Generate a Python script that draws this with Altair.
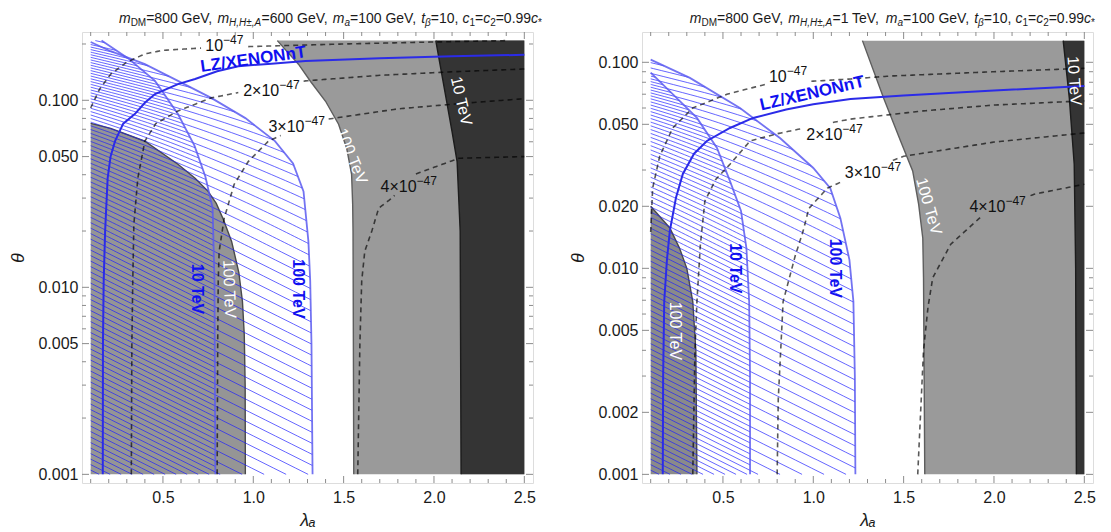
import numpy as np
import pandas as pd
import altair as alt

# ---------------- common layout / scale settings ----------------
W, HGT = 451, 451
XDOM = [0.052, 2.548]
LAM_LO, LAM_HI = 0.1, 2.5
TH_LO = 0.001

X_MAJOR = [0.5, 1.0, 1.5, 2.0, 2.5]
X_MINOR = [0.1, 0.2, 0.3, 0.4, 0.6, 0.7, 0.8, 0.9, 1.1, 1.2, 1.3, 1.4,
           1.6, 1.7, 1.8, 1.9, 2.1, 2.2, 2.3, 2.4]

# ---------------- LEFT panel data (m_H = 600 GeV) ----------------
L_YDOM = [0.000899, 0.2318]
L_TOP = 0.2085
L_Y_MAJOR = [0.001, 0.005, 0.01, 0.05, 0.1]
L_Y_MINOR = [0.002, 0.003, 0.004, 0.006, 0.007, 0.008, 0.009,
             0.02, 0.03, 0.04, 0.06, 0.07, 0.08, 0.09, 0.2]

L_dark_th = [0.2085, 0.068, 0.047, 0.02, 0.001]
L_dark_lam = [2.01, 2.10, 2.128, 2.145, 2.15]
L_mid_th = [0.2085, 0.156, 0.126, 0.0988, 0.0745, 0.0553, 0.0402, 0.0278, 0.0199, 0.001]
L_mid_lam = [1.133, 1.25, 1.317, 1.40, 1.472, 1.517, 1.544, 1.55, 1.552, 1.556]
L_low_th = [0.0753, 0.0708, 0.0604, 0.0455, 0.0383, 0.0326, 0.0281, 0.023, 0.0176,
            0.012, 0.0084, 0.0056, 0.003, 0.001]
L_low_lam = [0.1, 0.211, 0.40, 0.583, 0.678, 0.75, 0.795, 0.835, 0.88,
             0.92, 0.94, 0.95, 0.955, 0.956]

L_lz_lam = [0.167, 0.168, 0.172, 0.18, 0.194, 0.21, 0.235, 0.28, 0.344, 0.40, 0.456,
            0.583, 0.678, 0.8, 0.917, 1.1, 1.289, 1.7, 2.1, 2.5]
L_lz_th = [0.001, 0.005, 0.0108, 0.02, 0.0384, 0.05, 0.0605, 0.075, 0.0844, 0.097, 0.108,
           0.122, 0.130, 0.143, 0.152, 0.157, 0.162, 0.168, 0.172, 0.175]
L_b10_lam = [0.16, 0.306, 0.456, 0.583, 0.675, 0.735, 0.775, 0.785, 0.79]
L_b10_th = [0.2085, 0.168, 0.127, 0.0845, 0.057, 0.039, 0.0265, 0.0108, 0.001]
L_b100_lam = [0.1, 0.211, 0.4, 0.583, 0.767, 0.956, 1.12, 1.22, 1.278, 1.305, 1.315, 1.322, 1.328]
L_b100_th = [0.205, 0.183, 0.156, 0.127, 0.103, 0.0803, 0.0605, 0.046, 0.0326, 0.0176,
             0.0108, 0.005, 0.001]

L_d1_lam = [0.1, 0.15, 0.211, 0.3, 0.4, 0.5, 0.7, 0.917, 1.5, 2.0, 2.4]
L_d1_th = [0.091, 0.115, 0.138, 0.16, 0.177, 0.185, 0.19, 0.193, 0.2, 0.205, 0.2085]
L_d2_lam = [0.325, 0.328, 0.333, 0.339, 0.361, 0.40, 0.46, 0.583, 0.767, 0.917, 1.1,
            1.289, 1.7, 2.1, 2.5]
L_d2_th = [0.001, 0.005, 0.0108, 0.0217, 0.0384, 0.0605, 0.075, 0.0877, 0.103, 0.110,
           0.119, 0.127, 0.136, 0.142, 0.147]
L_d3_lam = [0.80, 0.803, 0.806, 0.811, 0.839, 0.894, 0.972, 1.083, 1.24, 1.417, 1.8, 2.2, 2.5]
L_d3_th = [0.001, 0.005, 0.0108, 0.0156, 0.0234, 0.0355, 0.047, 0.0604, 0.071, 0.0794,
           0.09, 0.097, 0.102]
L_d4_lam = [1.578, 1.59, 1.6, 1.617, 1.656, 1.694, 1.767, 1.9, 2.139, 2.5]
L_d4_th = [0.001, 0.005, 0.0108, 0.0156, 0.020, 0.0265, 0.030, 0.0404, 0.049, 0.05]

L_dlab_base = ["10", "2×10", "3×10", "4×10"]
L_dlab_sup = ["−47", "−47", "−47", "−47"]
L_dlab_lam = [0.84, 1.1, 1.24, 1.86]
L_dlab_th = [0.196, 0.112, 0.072, 0.0345]

L_blue_text = ["10 TeV", "100 TeV"]
L_blue_lam = [0.689, 1.25]
L_blue_th = [0.0098, 0.0098]
L_white_text = ["100 TeV", "100 TeV", "10 TeV"]
L_white_lam = [0.867, 1.544, 2.15]
L_white_th = [0.0098, 0.0503, 0.099]
L_white_ang = [88, 68, 77]
L_lz_label = (1.0, 0.165, -8)

# ---------------- RIGHT panel data (m_H = 1 TeV) ----------------
R_YDOM = [0.000908, 0.1403]
R_TOP = 0.1274
R_Y_MAJOR = [0.001, 0.002, 0.005, 0.01, 0.02, 0.05, 0.1]
R_Y_MINOR = [0.003, 0.004, 0.006, 0.007, 0.008, 0.009,
             0.03, 0.04, 0.06, 0.07, 0.08, 0.09]

R_dark_th = [0.1274, 0.0669, 0.032, 0.01, 0.001]
R_dark_lam = [2.383, 2.417, 2.444, 2.452, 2.456]
R_mid_th = [0.1274, 0.0671, 0.0415, 0.0297, 0.0205, 0.014, 0.009, 0.001]
R_mid_lam = [1.272, 1.389, 1.483, 1.55, 1.583, 1.606, 1.61, 1.617]
R_low_th = [0.02, 0.0157, 0.0125, 0.01, 0.0069, 0.004, 0.001]
R_low_lam = [0.1, 0.206, 0.26, 0.3, 0.333, 0.35, 0.356]

R_lz_lam = [0.167, 0.169, 0.175, 0.19, 0.206, 0.24, 0.278, 0.34, 0.411, 0.539, 0.667,
            0.85, 1.0, 1.206, 1.5, 2.0, 2.5]
R_lz_th = [0.001, 0.003, 0.0069, 0.011, 0.0152, 0.022, 0.0287, 0.036, 0.0415, 0.048,
           0.0537, 0.059, 0.0625, 0.0664, 0.069, 0.073, 0.0767]
R_b10_lam = [0.1, 0.222, 0.356, 0.467, 0.539, 0.60, 0.63, 0.645, 0.65, 0.65]
R_b10_th = [0.089, 0.0701, 0.0537, 0.0384, 0.0265, 0.019, 0.0125, 0.0069, 0.003, 0.001]
R_b100_lam = [0.1, 0.317, 0.594, 0.817, 1.0, 1.094, 1.15, 1.2, 1.222, 1.23, 1.233]
R_b100_th = [0.103, 0.084, 0.06, 0.0428, 0.0307, 0.0245, 0.0175, 0.011, 0.0069, 0.003, 0.001]

R_d1_lam = [0.1, 0.111, 0.15, 0.222, 0.333, 0.522, 0.744, 1.0, 1.206, 1.428, 2.0, 2.5]
R_d1_th = [0.015, 0.0245, 0.035, 0.048, 0.060, 0.070, 0.0785, 0.081, 0.083, 0.0858, 0.09, 0.0935]
R_d2_lam = [0.333, 0.345, 0.356, 0.375, 0.4, 0.46, 0.539, 0.65, 0.8, 1.0, 1.206, 1.6, 2.0, 2.5]
R_d2_th = [0.001, 0.004, 0.0069, 0.013, 0.0212, 0.027, 0.032, 0.0415, 0.045, 0.049, 0.053,
           0.058, 0.062, 0.065]
R_d3_lam = [0.8, 0.806, 0.833, 0.9, 0.944, 0.975, 1.078, 1.3, 1.5, 2.0, 2.5]
R_d3_th = [0.001, 0.0023, 0.0069, 0.0115, 0.0152, 0.0195, 0.0245, 0.030, 0.035, 0.041, 0.0454]
R_d4_lam = [1.578, 1.61, 1.635, 1.661, 1.761, 1.944, 2.222, 2.5]
R_d4_th = [0.001, 0.004, 0.0065, 0.009, 0.0131, 0.0183, 0.0229, 0.0256]

R_dlab_base = ["10", "2×10", "3×10", "4×10"]
R_dlab_sup = ["−47", "−47", "−47", "−47"]
R_dlab_lam = [0.86, 1.117, 1.33, 2.02]
R_dlab_th = [0.085, 0.0446, 0.029, 0.0199]

R_blue_text = ["10 TeV", "100 TeV"]
R_blue_lam = [0.567, 1.122]
R_blue_th = [0.01, 0.01]
R_white_text = ["100 TeV", "100 TeV", "10 TeV"]
R_white_lam = [0.233, 1.639, 2.444]
R_white_th = [0.00497, 0.02, 0.0812]
R_white_ang = [90, 74, 86]
R_lz_label = (0.994, 0.0705, -13)

# ---------------- titles (segments: text, size, italic, subscript) ----------------
def title_segments(mh):
    return [("m", 14, True, False), ("DM", 10, False, True), ("=800 GeV, ", 14, False, False),
            ("m", 14, True, False), ("H,H±,A", 10, True, True), ("=" + mh + ", ", 14, False, False),
            ("m", 14, True, False), ("a", 10, True, True), ("=100 GeV, ", 14, False, False),
            ("t", 14, True, False), ("β", 10, True, True), ("=10, ", 14, False, False),
            ("c", 14, True, False), ("1", 10, False, True), ("=", 14, False, False),
            ("c", 14, True, False), ("2", 10, False, True), ("=0.99", 14, False, False),
            ("c", 14, True, False), ("*", 10, False, True)]

CW = {"0": 556, "1": 556, "2": 556, "3": 556, "4": 556, "5": 556, "6": 556, "7": 556,
      "8": 556, "9": 556, " ": 278, "=": 584, ",": 278, ".": 278, "G": 778, "e": 556,
      "V": 667, "m": 833, "D": 722, "M": 833, "H": 722, "±": 584, "A": 667, "a": 556,
      "t": 278, "β": 575, "c": 500, "*": 389, "T": 611, "×": 584, "−": 584}


def seg_w(t, fs):
    return sum(CW.get(ch, 556) for ch in t) / 1000.0 * fs


# ---------------- drawing helpers ----------------
SY = [0, 60, 120, 200, 600]        # hatch slope profile (pixel depth -> slope)
SS = [0.22, 0.26, 0.40, 0.5, 0.5]
HATCH_STEP = 22.0
DUMMY = pd.DataFrame({"k": [0]})
BASE_FS, SUP_FS = 16, 12


def make_panel(P):
    ydom = P["ydom"]
    ppx = W / (XDOM[1] - XDOM[0])
    ltop = np.log10(ydom[1])
    ppd = HGT / (ltop - np.log10(ydom[0]))

    xs = alt.Scale(domain=XDOM, nice=False, zero=False)
    ys = alt.Scale(type="log", domain=ydom, nice=False)
    xaxis = alt.Axis(values=X_MAJOR, format=".1f", ticks=False, domain=False, grid=False,
                     labelFontSize=16, labelPadding=6, labelColor="#1a1a1a",
                     labelFont="Liberation Sans", title="λₐ", titleFontSize=18,
                     titleFontStyle="italic", titleFontWeight="normal", titlePadding=6,
                     titleColor="#1a1a1a", titleFont="Liberation Sans", labelFlush=False)
    yaxis = alt.Axis(values=P["ymajor"], format=".3f", ticks=False, domain=False, grid=False,
                     labelFontSize=16, labelPadding=4, labelColor="#1a1a1a",
                     labelFont="Liberation Sans", title="θ", titleFontSize=18,
                     titleFontStyle="italic", titleFontWeight="normal", titlePadding=10,
                     titleColor="#1a1a1a", titleFont="Liberation Sans", labelFlush=False)

    def X(f="lam"):
        return alt.X(f + ":Q", scale=xs, axis=xaxis)

    def Y(f="th"):
        return alt.Y(f + ":Q", scale=ys, axis=yaxis)

    layers = []

    # --- gray regions (vertical ranged areas) ---
    def region_right(lams, ths, color, edge):
        df = pd.DataFrame({"lam": list(lams) + [LAM_HI], "th": list(ths) + [TH_LO]})
        df["top"] = P["top"]
        area = alt.Chart(df).mark_area(color=color, opacity=1, interpolate="linear").encode(
            x=X(), y=Y(), y2="top:Q")
        e = pd.DataFrame({"lam": lams, "th": ths, "i": range(len(lams))})
        line = alt.Chart(e).mark_line(color=edge, strokeWidth=1.4).encode(
            x=X(), y=Y(), order="i:Q")
        return [area, line]

    def region_left(lams, ths, color, edge):
        df = pd.DataFrame({"lam": lams, "th": ths})
        df["bot"] = TH_LO
        area = alt.Chart(df).mark_area(color=color, opacity=1, interpolate="linear").encode(
            x=X(), y=Y("bot"), y2="th:Q")
        e = pd.DataFrame({"lam": lams, "th": ths, "i": range(len(lams))})
        line = alt.Chart(e).mark_line(color=edge, strokeWidth=1.4).encode(
            x=X(), y=Y(), order="i:Q")
        return [area, line]

    layers += region_right(P["mid_lam"], P["mid_th"], "#9a9a9a", "#5e5e5e")
    layers += region_right(P["dark_lam"], P["dark_th"], "#343434", "#1c1c1c")
    layers += region_left(P["low_lam"], P["low_th"], P["lowcol"], "#4a4a4a")

    # --- hatching (blue) ---
    Yt = (ltop - np.log10(P["top"])) * ppd
    Yb = (ltop - np.log10(TH_LO)) * ppd
    Ys = np.unique(np.concatenate([np.arange(Yt, min(220.0, Yb), 2.0),
                                   np.arange(220.0, Yb, 8.0), [Yb]]))
    sl = np.interp(Ys, SY, SS)
    inv = 1.0 / sl
    G = np.concatenate([[0.0], np.cumsum(0.5 * (inv[1:] + inv[:-1]) * np.diff(Ys))])
    thg = 10 ** (ltop - Ys / ppd)

    def hatch(cl, ct, offset, Hs=HATCH_STEP):
        lt = np.log10(np.array(ct))[::-1]
        ll = np.array(cl)[::-1]
        lamB = np.interp(np.log10(thg), lt, ll)
        rows = []
        cs = np.arange(-(LAM_HI - LAM_LO) * ppx + offset, G[-1] + Hs, Hs)
        for k, c in enumerate(cs):
            lam = LAM_LO + (G - c) / ppx
            f = np.minimum(lam - LAM_LO, lamB - lam)
            idx = np.where(f >= 0)[0]
            if len(idx) == 0:
                continue
            i0, i1 = idx[0], idx[-1]
            sy = list(Ys[i0:i1 + 1])
            sx = list(lam[i0:i1 + 1])
            if i0 > 0:
                t = f[i0 - 1] / (f[i0 - 1] - f[i0])
                sy.insert(0, Ys[i0 - 1] + t * (Ys[i0] - Ys[i0 - 1]))
                sx.insert(0, lam[i0 - 1] + t * (lam[i0] - lam[i0 - 1]))
            if i1 < len(Ys) - 1:
                t = f[i1] / (f[i1] - f[i1 + 1])
                sy.append(Ys[i1] + t * (Ys[i1 + 1] - Ys[i1]))
                sx.append(lam[i1] + t * (lam[i1 + 1] - lam[i1]))
            if len(sy) < 2:
                continue
            for j, (yy, xx) in enumerate(zip(sy, sx)):
                rows.append((k, j, round(float(xx), 5), float("%.5g" % (10 ** (ltop - yy / ppd)))))
        return pd.DataFrame(rows, columns=["id", "i", "lam", "th"])

    for cl, ct, off in [(P["b100_lam"], P["b100_th"], 0.0),
                        (P["b10_lam"], P["b10_th"], HATCH_STEP / 2)]:
        hd = hatch(cl, ct, off)
        layers.append(alt.Chart(hd).mark_line(color="#1c1cff", strokeWidth=0.75, opacity=0.9).encode(
            x=X(), y=Y(), detail="id:N", order="i:Q"))

    # --- blue contours ---
    for cl, ct in [(P["b10_lam"], P["b10_th"]), (P["b100_lam"], P["b100_th"])]:
        df = pd.DataFrame({"lam": cl, "th": ct, "i": range(len(cl))})
        layers.append(alt.Chart(df).mark_line(color="#5a5af0", strokeWidth=1.8, opacity=0.85).encode(
            x=X(), y=Y(), order="i:Q"))

    # --- dashed sigma contours, broken at their labels ---
    boxes = []
    for b, s, la, th in zip(P["dlab_base"], P["dlab_sup"], P["dlab_lam"], P["dlab_th"]):
        cx = (la - XDOM[0]) * ppx
        cy = (ltop - np.log10(th)) * ppd
        hw = (seg_w(b, BASE_FS) + seg_w(s, SUP_FS)) / 2 + 3
        boxes.append((cx, cy - 2, hw, 10.0))
    drows = []
    sid = 0
    for cl, ct in P["dashed"]:
        Xp = (np.array(cl) - XDOM[0]) * ppx
        Yp = (ltop - np.log10(np.array(ct))) * ppd
        px, py = [], []
        for i in range(len(Xp) - 1):
            n = max(2, int(np.hypot(Xp[i + 1] - Xp[i], Yp[i + 1] - Yp[i]) / 2) + 1)
            tt = np.linspace(0, 1, n, endpoint=False)
            px += list(Xp[i] + tt * (Xp[i + 1] - Xp[i]))
            py += list(Yp[i] + tt * (Yp[i + 1] - Yp[i]))
        px.append(Xp[-1]); py.append(Yp[-1])
        cur = []
        for x_, y_ in zip(px, py):
            inside = any(abs(x_ - bx) < bw and abs(y_ - by) < bh for bx, by, bw, bh in boxes)
            if inside:
                if len(cur) > 1:
                    for j, (a, b) in enumerate(cur):
                        drows.append((sid, j, a, b))
                    sid += 1
                cur = []
            else:
                cur.append((round(XDOM[0] + x_ / ppx, 5), float("%.5g" % (10 ** (ltop - y_ / ppd)))))
        if len(cur) > 1:
            for j, (a, b) in enumerate(cur):
                drows.append((sid, j, a, b))
            sid += 1
    dd = pd.DataFrame(drows, columns=["id", "i", "lam", "th"])
    layers.append(alt.Chart(dd).mark_line(color="#000000", strokeWidth=1.6, opacity=0.65,
                                          strokeDash=[5, 4]).encode(
        x=X(), y=Y(), detail="id:N", order="i:Q"))

    # --- LZ/XENONnT line ---
    df = pd.DataFrame({"lam": P["lz_lam"], "th": P["lz_th"], "i": range(len(P["lz_lam"]))})
    layers.append(alt.Chart(df).mark_line(color="#2b2be8", strokeWidth=2.0).encode(
        x=X(), y=Y(), order="i:Q"))

    # --- labels ---
    for t, la, th, ang in zip(P["white_text"], P["white_lam"], P["white_th"], P["white_ang"]):
        d = pd.DataFrame({"lam": [la], "th": [th], "t": [t]})
        layers.append(alt.Chart(d).mark_text(color="white", fontSize=16, angle=ang,
                                             font="Liberation Sans").encode(
            x=X(), y=Y(), text="t:N"))
    d = pd.DataFrame({"lam": P["blue_lam"], "th": P["blue_th"], "t": P["blue_text"]})
    layers.append(alt.Chart(d).mark_text(color="#1010f0", fontSize=16, fontWeight="bold", angle=90,
                                         font="Liberation Sans").encode(
        x=X(), y=Y(), text="t:N"))
    for b, s, la, th in zip(P["dlab_base"], P["dlab_sup"], P["dlab_lam"], P["dlab_th"]):
        wb, ws = seg_w(b, BASE_FS), seg_w(s, SUP_FS)
        d = pd.DataFrame({"lam": [la], "th": [th], "t": [b], "s": [s]})
        layers.append(alt.Chart(d).mark_text(color="#111111", fontSize=BASE_FS, align="left",
                                             baseline="middle", dx=-(wb + ws) / 2,
                                             font="Liberation Sans").encode(
            x=X(), y=Y(), text="t:N"))
        layers.append(alt.Chart(d).mark_text(color="#111111", fontSize=SUP_FS, align="left",
                                             baseline="middle", dx=-(wb + ws) / 2 + wb, dy=-6,
                                             font="Liberation Sans").encode(
            x=X(), y=Y(), text="s:N"))
    la, th, ang = P["lz_label"]
    d = pd.DataFrame({"lam": [la], "th": [th], "t": ["LZ/XENONnT"]})
    layers.append(alt.Chart(d).mark_text(color="#1010f0", fontSize=17, fontWeight="bold",
                                         angle=360 + ang, font="Liberation Sans").encode(
        x=X(), y=Y(), text="t:N"))

    # --- frame ticks (inside, all four sides) ---
    tcol = "#8c8c8c"
    for vals, ln in [(X_MAJOR, 7), (X_MINOR, 4)]:
        d = pd.DataFrame({"lam": vals})
        layers.append(alt.Chart(d).mark_rule(color=tcol, strokeWidth=1).encode(
            x=X(), y=alt.value(HGT), y2=alt.value(HGT - ln)))
        layers.append(alt.Chart(d).mark_rule(color=tcol, strokeWidth=1).encode(
            x=X(), y=alt.value(0), y2=alt.value(ln)))
    for vals, ln in [(P["ymajor"], 7), (P["yminor"], 4)]:
        d = pd.DataFrame({"th": vals})
        layers.append(alt.Chart(d).mark_rule(color=tcol, strokeWidth=1).encode(
            y=Y(), x=alt.value(0), x2=alt.value(ln)))
        layers.append(alt.Chart(d).mark_rule(color=tcol, strokeWidth=1).encode(
            y=Y(), x=alt.value(W), x2=alt.value(W - ln)))

    # --- title (segments with sub-scripts) ---
    segs = P["title"]
    total = sum(seg_w(t, fs) for t, fs, it, sub in segs)
    xpos = W + P["title_dx"] - total
    for t, fs, it, sub in segs:
        layers.append(alt.Chart(DUMMY).mark_text(
            text=t, fontSize=fs, fontStyle="italic" if it else "normal", align="left",
            baseline="alphabetic", color="#1a1a1a", font="Liberation Sans").encode(
            x=alt.value(round(xpos, 2)), y=alt.value(-9 + (3 if sub else 0))))
        xpos += seg_w(t, fs)

    return alt.layer(*layers).properties(width=W, height=HGT)


LEFT = dict(ydom=L_YDOM, top=L_TOP, ymajor=L_Y_MAJOR, yminor=L_Y_MINOR,
            dark_lam=L_dark_lam, dark_th=L_dark_th, mid_lam=L_mid_lam, mid_th=L_mid_th,
            low_lam=L_low_lam, low_th=L_low_th, lowcol="#959595",
            lz_lam=L_lz_lam, lz_th=L_lz_th, b10_lam=L_b10_lam, b10_th=L_b10_th,
            b100_lam=L_b100_lam, b100_th=L_b100_th,
            dashed=[(L_d1_lam, L_d1_th), (L_d2_lam, L_d2_th), (L_d3_lam, L_d3_th), (L_d4_lam, L_d4_th)],
            dlab_base=L_dlab_base, dlab_sup=L_dlab_sup, dlab_lam=L_dlab_lam, dlab_th=L_dlab_th,
            blue_text=L_blue_text, blue_lam=L_blue_lam, blue_th=L_blue_th,
            white_text=L_white_text, white_lam=L_white_lam, white_th=L_white_th,
            white_ang=L_white_ang, lz_label=L_lz_label,
            title=title_segments("600 GeV"), title_dx=9)

RIGHT = dict(ydom=R_YDOM, top=R_TOP, ymajor=R_Y_MAJOR, yminor=R_Y_MINOR,
             dark_lam=R_dark_lam, dark_th=R_dark_th, mid_lam=R_mid_lam, mid_th=R_mid_th,
             low_lam=R_low_lam, low_th=R_low_th, lowcol="#8a8a8a",
             lz_lam=R_lz_lam, lz_th=R_lz_th, b10_lam=R_b10_lam, b10_th=R_b10_th,
             b100_lam=R_b100_lam, b100_th=R_b100_th,
             dashed=[(R_d1_lam, R_d1_th), (R_d2_lam, R_d2_th), (R_d3_lam, R_d3_th), (R_d4_lam, R_d4_th)],
             dlab_base=R_dlab_base, dlab_sup=R_dlab_sup, dlab_lam=R_dlab_lam, dlab_th=R_dlab_th,
             blue_text=R_blue_text, blue_lam=R_blue_lam, blue_th=R_blue_th,
             white_text=R_white_text, white_lam=R_white_lam, white_th=R_white_th,
             white_ang=R_white_ang, lz_label=R_lz_label,
             title=title_segments("1 TeV"), title_dx=2)

chart = alt.hconcat(make_panel(LEFT), make_panel(RIGHT), spacing=26).properties(
    padding={"left": 1, "top": 3, "right": 0, "bottom": 0}
).configure_view(stroke="#a0a0a0", strokeWidth=1).configure(background="white")

chart.save("out.html", embed_options={"renderer": "svg", "actions": False})
